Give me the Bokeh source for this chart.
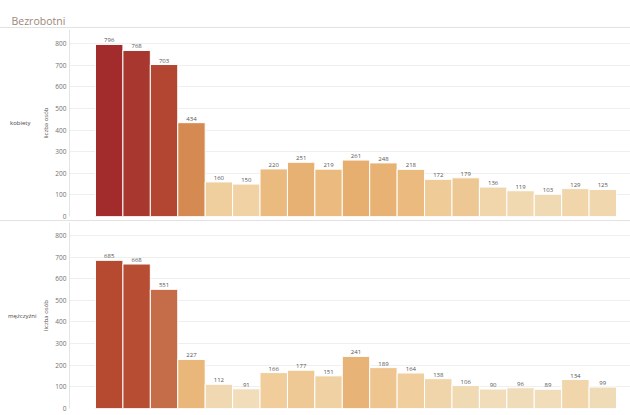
from bokeh.plotting import figure
from bokeh.models import Range1d, FixedTicker, LinearAxis, Spacer, ColumnDataSource
from bokeh.layouts import column
from bokeh.transform import linear_cmap
from bokeh.core.properties import value
from bokeh.embed import file_html
from bokeh.resources import INLINE

title_text = "Bezrobotni"
panel_labels = ["kobiety", "mężczyźni"]
y_axis_label = "liczba osób"
values_kobiety = [796, 768, 703, 434, 160, 150, 220, 251, 219, 261, 248, 218, 172, 179, 136, 119, 103, 129, 125]
values_mezczyzni = [685, 668, 551, 227, 112, 91, 166, 177, 151, 241, 189, 164, 138, 106, 90, 96, 89, 134, 99]
positions = list(range(len(values_kobiety)))
y_ticks = [0, 100, 200, 300, 400, 500, 600, 700, 800]

# colour scale anchors (value -> colour)
anchor_vals = [80, 103, 136, 160, 220, 260, 434, 551, 685, 703, 768, 800]
anchor_cols = ["#F1DFBE", "#F0DAB4", "#F1D5AA", "#F0CF9E", "#EBB97D", "#E6AE6F",
               "#D58A52", "#C56D48", "#B54A31", "#B24632", "#A8372F", "#A02B2B"]

def _rgb(h):
    h = h.lstrip("#")
    return [int(h[i:i + 2], 16) for i in (0, 2, 4)]

LOW, HIGH, N = 80, 800, 256
palette = []
for k in range(N):
    v = LOW + (HIGH - LOW) * k / (N - 1)
    j = 0
    while j < len(anchor_vals) - 2 and v > anchor_vals[j + 1]:
        j += 1
    t = (v - anchor_vals[j]) / (anchor_vals[j + 1] - anchor_vals[j])
    t = min(max(t, 0), 1)
    a, b = _rgb(anchor_cols[j]), _rgb(anchor_cols[j + 1])
    c = [round(a[i] + (b[i] - a[i]) * t) for i in range(3)]
    palette.append("#%02x%02x%02x" % tuple(c))

FONT = "Open Sans"
W = 630
LB = 69
X_RANGE = (-1.448, 19.01)


def make_panel(vals, label, height, outer_standoff, y_top):
    src = ColumnDataSource(dict(x=positions, v=vals, lbl=[str(v) for v in vals]))
    p = figure(width=W, height=height, x_range=Range1d(*X_RANGE), y_range=Range1d(0, y_top),
               output_backend="svg", toolbar_location=None, x_axis_location=None,
               min_border_left=LB, min_border_right=0, min_border_top=1, min_border_bottom=4)
    p.outline_line_color = None
    p.xgrid.visible = False
    p.ygrid.grid_line_color = "#EFEFEF"
    p.ygrid.ticker = FixedTicker(ticks=y_ticks)
    p.vbar(x="x", top="v", width=1, bottom=0, source=src,
           fill_color=linear_cmap("v", palette, LOW, HIGH), line_color="white", line_width=1)
    p.text(x="x", y="v", text="lbl", source=src, text_align="center", text_baseline="bottom",
           y_offset=-2, text_font_size="6px", text_color="#555555", text_font=value(FONT))
    ax = p.yaxis[0]
    ax.ticker = FixedTicker(ticks=y_ticks)
    ax.major_tick_line_color = None
    ax.minor_tick_line_color = None
    ax.major_tick_out = 0
    ax.major_label_standoff = 3
    ax.major_label_text_font_size = "6.5px"
    ax.major_label_text_color = "#707070"
    ax.major_label_text_font = FONT
    ax.axis_line_color = "#E4E4E4"
    ax.axis_label = y_axis_label
    ax.axis_label_standoff = 2
    ax.axis_label_text_font_size = "6px"
    ax.axis_label_text_font_style = "normal"
    ax.axis_label_text_color = "#555555"
    ax.axis_label_text_font = FONT
    outer = LinearAxis(ticker=FixedTicker(ticks=[]), axis_label=label,
                       axis_label_orientation="horizontal", axis_line_color=None,
                       major_tick_out=0, major_tick_in=0, minor_tick_out=0, minor_tick_in=0,
                       major_label_standoff=0, axis_label_standoff=outer_standoff,
                       axis_label_text_font_size="6px", axis_label_text_font_style="normal",
                       axis_label_text_color="#444444", axis_label_text_font=FONT)
    p.add_layout(outer, "left")
    return p


t = figure(width=W, height=27, x_range=Range1d(0, 10), y_range=Range1d(0, 1),
           x_axis_location=None, y_axis_location=None, min_border=0, min_border_left=LB,
           min_border_bottom=5, output_backend="svg", toolbar_location=None,
           title=title_text, title_location="below")
t.outline_line_color = None
t.grid.visible = False
t.title.align = "left"
t.title.offset = -(LB - 11)
t.title.standoff = 0
t.title.text_font_size = "10.5px"
t.title.text_font_style = "normal"
t.title.text_color = "#9C8878"
t.title.text_font = FONT

line1 = Spacer(width=W, height=1, styles={"background-color": "#E2E2E2"})
p1 = make_panel(values_kobiety, panel_labels[0], 192, 9, 865)
line2 = Spacer(width=W, height=1, styles={"background-color": "#E2E2E2"})
p2 = make_panel(values_mezczyzni, panel_labels[1], 191, 3, 860)

layout = column(t, line1, p1, line2, p2, spacing=0)
open("out.html", "w").write(file_html(layout, INLINE))
